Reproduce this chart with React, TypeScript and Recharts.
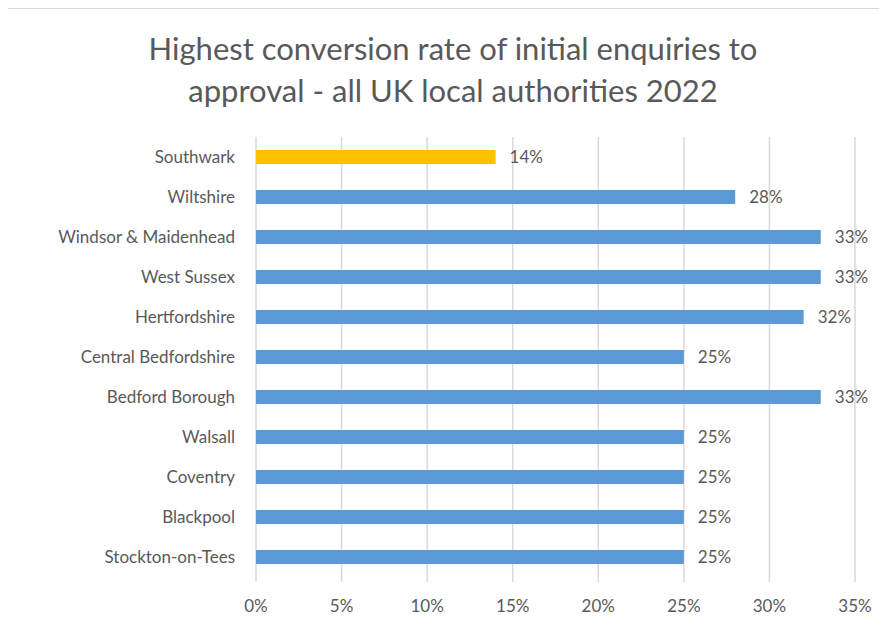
import React from "react";
import { BarChart, Bar, XAxis, YAxis, CartesianGrid, Cell, LabelList } from "recharts";

const categories = [
  "Southwark",
  "Wiltshire",
  "Windsor & Maidenhead",
  "West Sussex",
  "Hertfordshire",
  "Central Bedfordshire",
  "Bedford Borough",
  "Walsall",
  "Coventry",
  "Blackpool",
  "Stockton-on-Tees",
];
const rates = [14, 28, 33, 33, 32, 25, 33, 25, 25, 25, 25];
const highlight = ["Southwark"];
const xTicks = [0, 5, 10, 15, 20, 25, 30, 35];

const chartData = categories.map((name, i) => ({ name, rate: rates[i] }));

const FONT = "Lato, 'Open Sans', sans-serif";
const TEXT = "#595959";

const App: React.FC = () => {
  return (
    <div
      style={{
        position: "relative",
        width: 887,
        height: 630,
        marginLeft: -8,
        marginTop: -8,
        overflow: "hidden",
        background: "#fff",
        fontFamily: FONT,
      }}
    >
      <div style={{ position: "absolute", left: 0, top: 0 }}>
        <BarChart
          width={887}
          height={630}
          data={chartData}
          layout="vertical"
          margin={{ top: 137, right: 32, bottom: 13, left: 0 }}
        >
          <CartesianGrid horizontal={false} stroke="#d9d9d9" strokeWidth={1.5} />
          <XAxis
            type="number"
            domain={[0, 35]}
            ticks={xTicks}
            tickFormatter={(v) => `${v}%`}
            axisLine={false}
            tickLine={{ stroke: "#d9d9d9", strokeWidth: 1.5 }}
            tickSize={5}
            tickMargin={18}
            height={40}
            tick={{ fontSize: 17, fill: TEXT, fontFamily: FONT }}
          />
          <YAxis
            type="category"
            dataKey="name"
            width={256}
            axisLine={false}
            tickLine={false}
            tickSize={0}
            tickMargin={21}
            interval={0}
            tick={{ fontSize: 17, fill: TEXT, fontFamily: FONT }}
          />
          <Bar dataKey="rate" barSize={14} isAnimationActive={false}>
            {chartData.map((d) => (
              <Cell key={d.name} fill={highlight.includes(d.name) ? "#FFC000" : "#5B9BD5"} />
            ))}
            <LabelList
              dataKey="rate"
              position="right"
              offset={14}
              formatter={(v: any) => `${v}%`}
              style={{ fontSize: 17, fill: TEXT, fontFamily: FONT }}
            />
          </Bar>
        </BarChart>
      </div>
      {/* chart frame */}
      <div
        style={{
          position: "absolute",
          left: 5,
          top: 7,
          width: 900,
          height: 700,
          border: "2px solid #d9d9d9",
          pointerEvents: "none",
        }}
      />
      <div
        style={{
          position: "absolute",
          left: 0,
          width: 906,
          top: 27,
          textAlign: "center",
          fontSize: 31,
          fontWeight: 400,
          lineHeight: "42px",
          color: TEXT,
        }}
      >
        Highest conversion rate of initial enquiries to
        <br />
        approval - all UK local authorities 2022
      </div>
    </div>
  );
};

export default App;
